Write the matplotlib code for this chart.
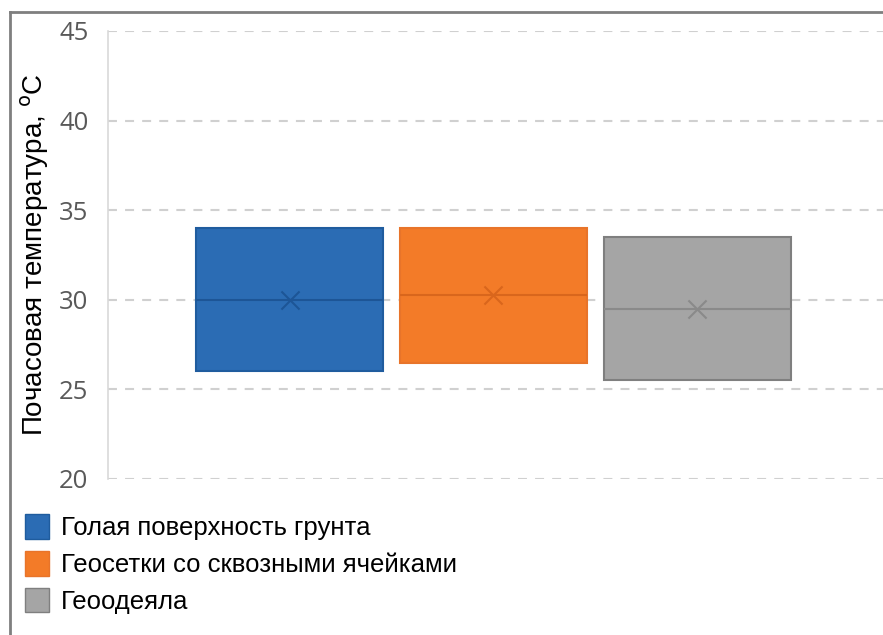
import matplotlib.pyplot as plt
from matplotlib.patches import Patch
from matplotlib.lines import Line2D

# Данные (квартили, медиана и среднее)
series = ["Голая поверхность грунта", "Геосетки со сквозными ячейками", "Геоодеяла"]
q1 = [26.0, 26.5, 25.5]
q3 = [34.0, 34.0, 33.5]
median = [30.0, 30.25, 29.5]
mean = [30.0, 30.25, 29.5]
yticks = [20, 25, 30, 35, 40, 45]

colors = ["#2B6CB4", "#F37B28", "#A5A5A5"]
edges = ["#1F5C9E", "#E8742A", "#7F7F7F"]
dark = ["#1D5596", "#D9661C", "#8A8A8A"]

fig = plt.figure(figsize=(8.83, 6.35), dpi=100)
ax = fig.add_axes([108 / 883, 1 - 479 / 635, 1 - 108 / 883, (479 - 31) / 635])

pos = [0, 1, 2]
w = 0.915
for i in pos:
    ax.bar(i, q3[i] - q1[i], bottom=q1[i], width=w, color=colors[i],
           edgecolor=edges[i], linewidth=1.5, zorder=3)
    ax.hlines(median[i], i - w / 2, i + w / 2, color=dark[i], linewidth=1.5, zorder=4)
    ax.scatter(i, mean[i], marker="x", s=170, color=dark[i], linewidths=1.5, zorder=5)

ax.set_xlim(-0.89, 2.91)
ax.set_ylim(20, 45)
ax.set_yticks(yticks)
ax.set_xticks([])
ax.tick_params(axis="y", length=0, pad=14, labelsize=18.5, labelcolor="#595959")
for lab in ax.get_yticklabels():
    lab.set_family("Open Sans")

ax.grid(axis="y", color="#D0D0D0", linestyle=(0, (4.3, 3.9)), linewidth=1.5, zorder=0)
for s in ["top", "right", "bottom"]:
    ax.spines[s].set_visible(False)
ax.spines["left"].set_color("#D9D9D9")
ax.spines["left"].set_linewidth(1.2)

ax.set_ylabel("Почасовая температура, $^{\\mathrm{o}}$C", fontsize=20,
              family="Liberation Sans", color="black")
ax.yaxis.set_label_coords(-0.074, 0.5)

handles = [Patch(facecolor=colors[i], edgecolor=edges[i], label=series[i]) for i in pos]
fig.legend(handles=handles, loc="upper left", bbox_to_anchor=(25 / 883, 1 - 514 / 635),
           frameon=False, prop={"family": "Liberation Sans", "size": 18.5},
           handlelength=0.95, handleheight=1.1, handletextpad=0.45, labelspacing=0.42,
           borderaxespad=0, borderpad=0)

# рамка диаграммы (видна только сверху и слева)
fig.add_artist(Line2D([10 / 883, 10 / 883], [0, 1 - 12 / 635], color="#7F7F7F", linewidth=2))
fig.add_artist(Line2D([10 / 883, 1], [1 - 12 / 635, 1 - 12 / 635], color="#7F7F7F", linewidth=2))

plt.savefig("out.png", dpi=100)
